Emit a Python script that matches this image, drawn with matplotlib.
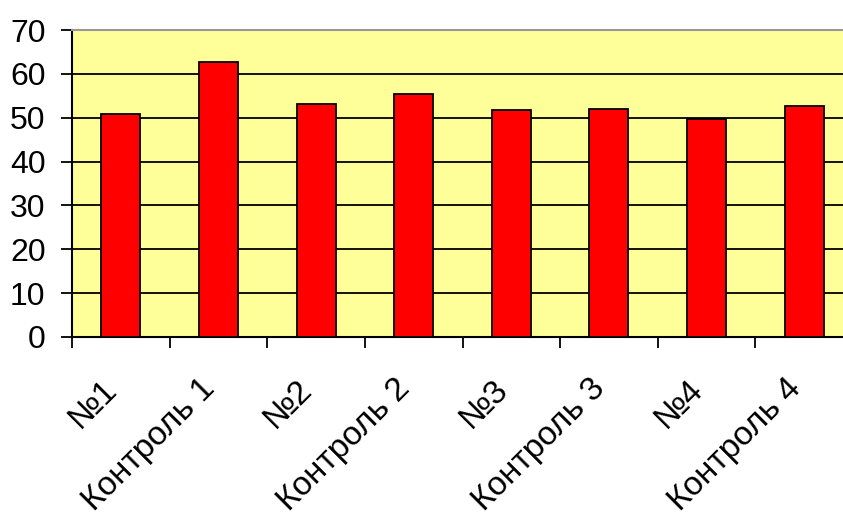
import numpy as np
import matplotlib.pyplot as plt

categories = ["№1", "Контроль 1", "№2", "Контроль 2", "№3", "Контроль 3", "№4", "Контроль 4"]
values = [50.8, 62.7, 53.1, 55.4, 51.7, 52.1, 49.8, 52.6]
y_ticks = [0, 10, 20, 30, 40, 50, 60, 70]

plt.rcParams['font.family'] = ['Liberation Sans', 'DejaVu Sans']

fig = plt.figure(figsize=(8.43, 5.12), dpi=100)
# plot area runs past the right edge, as in the reference
ax = fig.add_axes([72 / 843, 175 / 512, 781 / 843, 307 / 512])
ax.set_facecolor('#FFFF99')

x = np.arange(len(categories))
ax.bar(x, values, width=0.4, color='#FF0000', edgecolor='black', linewidth=1.3, zorder=3)

ax.set_xlim(-0.5, len(categories) - 0.5)
ax.set_ylim(0, 70)
ax.set_yticks(y_ticks)
ax.yaxis.grid(True, color='black', linewidth=1.3, zorder=1)
ax.set_axisbelow(True)

# ticks between categories, labels at category centres
ax.set_xticks(np.arange(len(categories)) - 0.5)
ax.set_xticklabels([])
ax.tick_params(axis='x', length=8, width=1.3, color='black')
ax.tick_params(axis='y', length=8, width=1.3, color='black', labelsize=23, pad=11)

for xi, lab in zip(x, categories):
    ax.annotate(lab, xy=(xi, 0), xycoords='data', xytext=(-6, -34), textcoords='offset points',
                rotation=45, ha='right', va='center', rotation_mode='anchor', fontsize=24,
                annotation_clip=False)

ax.spines['top'].set_color('#999999')
ax.spines['top'].set_linewidth(1.5)
ax.spines['right'].set_visible(False)
ax.spines['left'].set_linewidth(1.5)
ax.spines['bottom'].set_linewidth(1.5)

fig.savefig('out.png', dpi=100)
